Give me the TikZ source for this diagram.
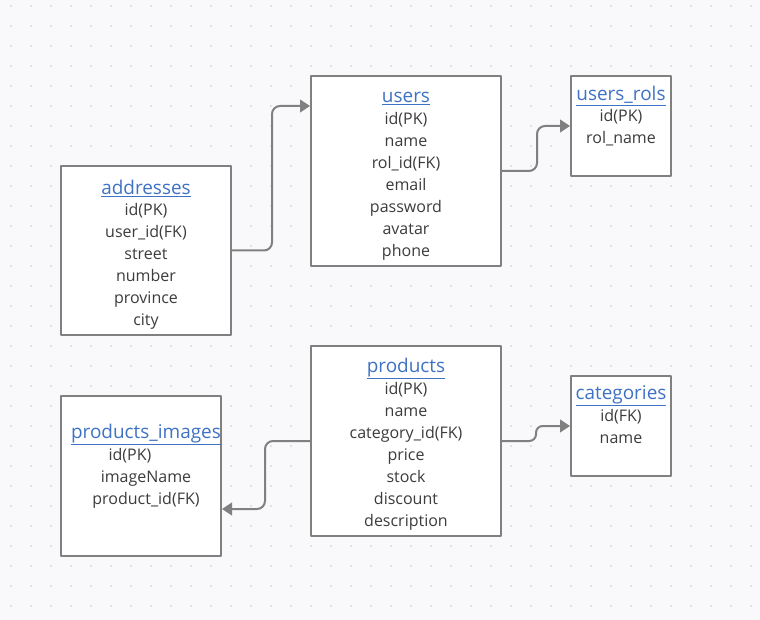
\documentclass[tikz,border=0pt]{standalone}
\usepackage{fontspec}
\setmainfont{Open Sans}
\usetikzlibrary{arrows.meta}
\definecolor{paper}{HTML}{F9F9FB}
\definecolor{griddot}{HTML}{DADADF}
\definecolor{edge}{HTML}{808080}
\definecolor{ink}{HTML}{3C3C3C}
\definecolor{titleblue}{HTML}{3F72C5}

\begin{document}
\begin{tikzpicture}[x=0.75pt,y=-0.75pt,line cap=round,line join=round,
    >={Triangle[length=7.5pt,width=9.5pt]},
    table/.style={draw=edge,fill=white,line width=1.5pt,inner sep=0pt},
    title/.style={text=titleblue,font=\fontsize{14.2}{17}\selectfont,inner sep=0pt,
      yshift=-2pt},
    field/.style={text=ink,font=\fontsize{12}{14}\selectfont,inner sep=0pt,
      text height=1.5ex,text depth=.3ex,yshift=-1.5pt},
    link/.style={draw=edge,fill=none,line width=1.5pt,rounded corners=6pt,->}]
    % The dotted paper.
    \useasboundingbox[fill=paper] (0,0) rectangle (760,620);
    \foreach \x in {11,31,...,751}
      \foreach \y in {6,26,...,606}
        \fill[griddot] (\x,\y) circle (1.1);

    % The tables.
    \node[table,minimum width=142.5pt,minimum height=142.5pt] (users) at (406,171) {};
    \node[table,minimum width=75pt,minimum height=75pt] (usersrols) at (621,126) {};
    \node[table,minimum width=127.5pt,minimum height=126.75pt] (addresses) at (146,250.5) {};
    \node[table,minimum width=142.5pt,minimum height=142.5pt] (products) at (406,441) {};
    \node[table,minimum width=75pt,minimum height=75pt] (categories) at (621,426) {};
    \node[table,minimum width=120pt,minimum height=120pt] (prodimages) at (141,476) {};

    % Their titles.
    \node[title] (users-t) at (406,96) {\underline{users}};
    \node[title] (usersrols-t) at (621,93) {\underline{users\_rols}};
    \node[title] (addresses-t) at (146,186) {\underline{addresses}};
    \node[title] (products-t) at (406,366) {\underline{products}};
    \node[title] (categories-t) at (621,393) {\underline{categories}};
    \node[title] (prodimages-t) at (146,432) {\underline{products\_images}};

    % Their fields.
    \foreach \f [count=\i] in {id(PK),name,rol\_id(FK),email,password,avatar,phone}
      \node[field] (users-\i) at (406,{118+22*(\i-1)}) {\f};
    \foreach \f [count=\i] in {id(PK),rol\_name}
      \node[field] (usersrols-\i) at (621,{115+22*(\i-1)}) {\f};
    \foreach \f [count=\i] in {id(PK),user\_id(FK),street,number,province,city}
      \node[field] (addresses-\i) at (146,{209+22*(\i-1)}) {\f};
    \foreach \f [count=\i] in {id(PK),name,category\_id(FK),price,stock,discount,description}
      \node[field] (products-\i) at (406,{388+22*(\i-1)}) {\f};
    \foreach \f [count=\i] in {id(FK),name}
      \node[field] (categories-\i) at (621,{415+22*(\i-1)}) {\f};
    \node[field] (prodimages-1) at (130,454) {id(PK)};
    \node[field] (prodimages-2) at (146,476) {imageName};
    \node[field] (prodimages-3) at (146,498) {product\_id(FK)};

    % The relations.
    \draw[link] (addresses.east) -- ++(40,0) |- ([yshift=48.75pt]users.west);
    \draw[link] (users.east) -- ++(35,0) |- (usersrols.west);
    \draw[link] (products.west) -- ++(-45,0) |- ([yshift=-24.75pt]prodimages.east);
    \draw[link,rounded corners=5pt] (products.east) -- ++(34,0) |- (categories.west);
  \end{tikzpicture}
\end{document}
